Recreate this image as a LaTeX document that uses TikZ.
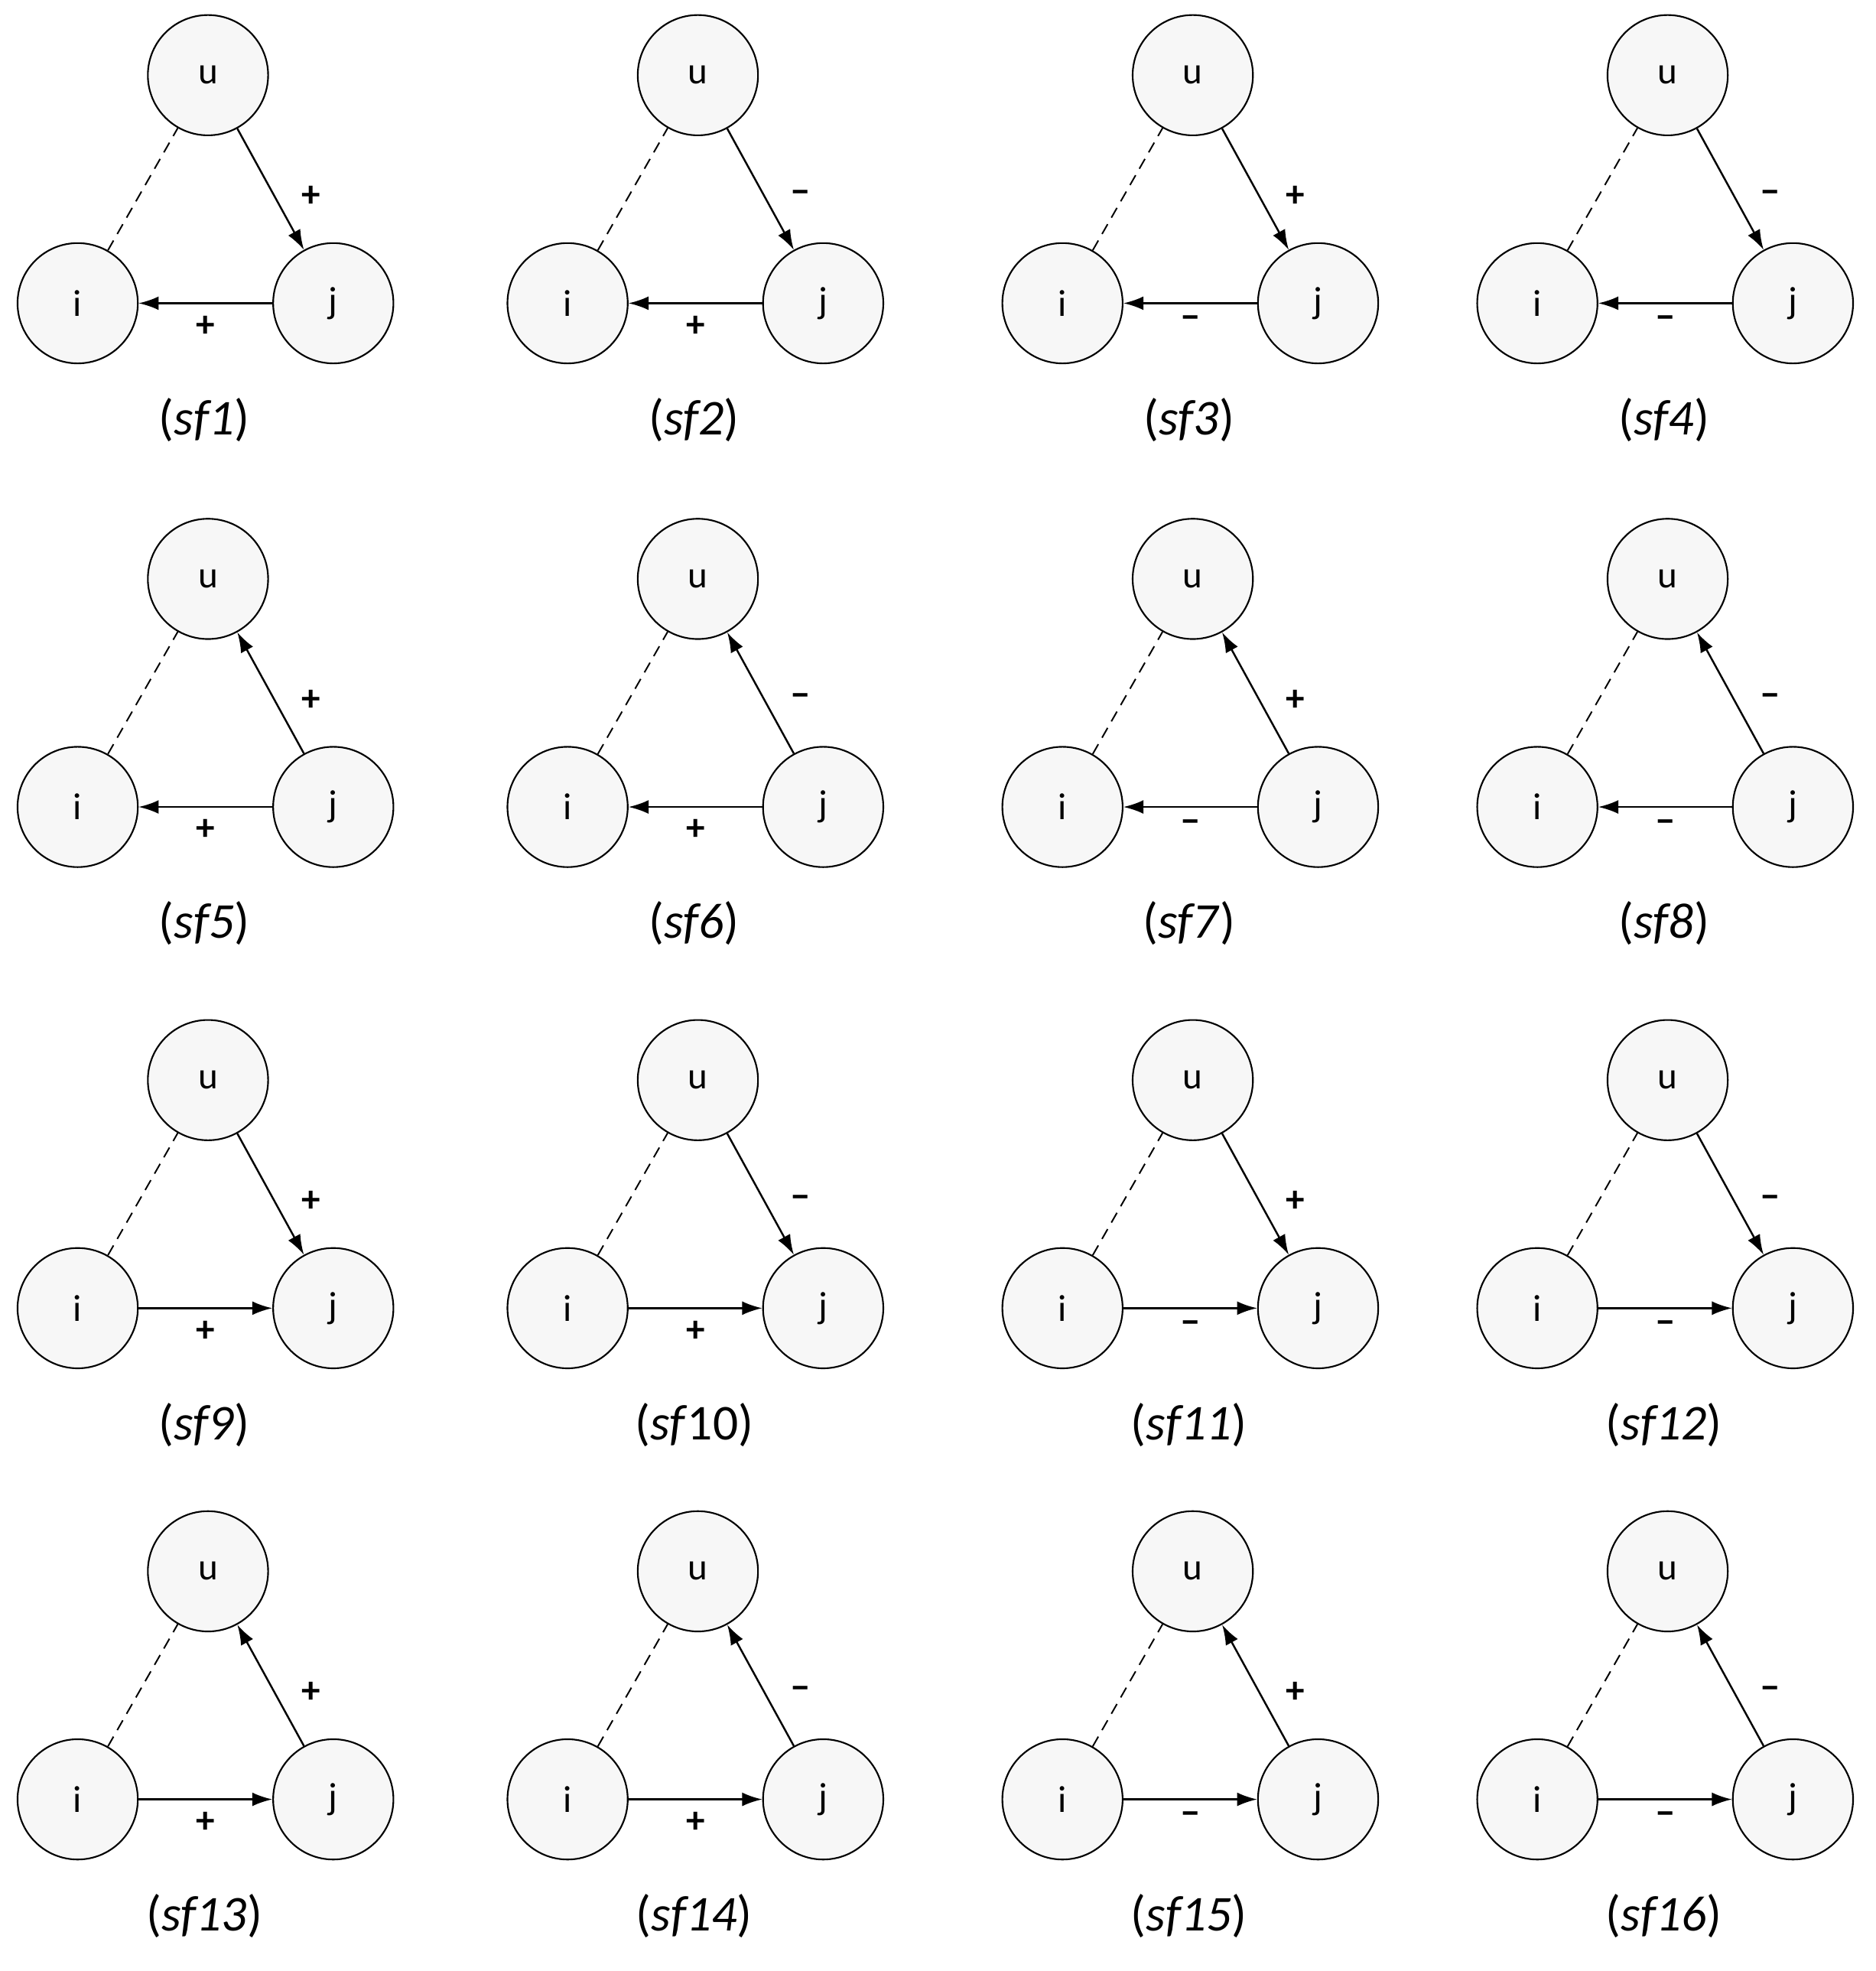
\documentclass[tikz,border=0pt]{standalone}
\usepackage{fontspec}
\setmainfont{Carlito}
\usetikzlibrary{arrows.meta}
\begin{document}
\begin{tikzpicture}[x=1pt,y=-1pt,
  vtx/.style={circle,draw,line width=1.3pt,fill=gray!6,minimum size=96pt,inner sep=0pt,font=\fontsize{30}{30}\selectfont},
  edge/.style={line width=1.5pt,-{Latex[length=16pt,width=11pt]}},
  dashline/.style={line width=1.2pt,dash pattern=on 9pt off 6pt},
  sgn/.style={font=\bfseries\fontsize{30}{30}\selectfont},
  captext/.style={font=\fontsize{40}{40}\selectfont}]
\useasboundingbox (0,0) rectangle (1497,1573);
\def\cx{{166,557,952,1331}}
\def\ry{{60,462,862,1254}}
\foreach \r in {0,1,2,3}{
 \foreach \c in {0,1,2,3}{
  \pgfmathsetmacro{\X}{\cx[\c]}
  \pgfmathsetmacro{\Y}{\ry[\r]}
  \pgfmathtruncatemacro{\n}{\r*4+\c+1}
  \node[vtx] (u\n) at (\X,\Y) {u};
  \node[vtx] (i\n) at (\X-104,\Y+182) {i};
  \node[vtx] (j\n) at (\X+100,\Y+182) {j};
  \draw[dashline] (i\n) -- (u\n);
  \ifnum\c=0 \def\sa{+}\def\sb{+}\fi
  \ifnum\c=1 \def\sa{−}\def\sb{+}\fi
  \ifnum\c=2 \def\sa{+}\def\sb{−}\fi
  \ifnum\c=3 \def\sa{−}\def\sb{−}\fi
  \ifodd\r
    \draw[edge] (j\n) -- node[sgn,pos=0.5,xshift=32pt,yshift=-6pt]{\sa} (u\n);
  \else
    \draw[edge] (u\n) -- node[sgn,pos=0.5,xshift=32pt,yshift=-6pt]{\sa} (j\n);
  \fi
  \ifnum\r<2
    \draw[edge] (j\n) -- node[sgn,below=6pt]{\sb} (i\n);
  \else
    \draw[edge] (i\n) -- node[sgn,below=6pt]{\sb} (j\n);
  \fi
  \ifnum\n=10
    \node[captext] (c\n) at (\X-3,\Y+275) {(\textit{sf}10)};
  \else
    \node[captext] (c\n) at (\X-3,\Y+275) {(\textit{sf\n})};
  \fi
 }}
\end{tikzpicture}
\end{document}
